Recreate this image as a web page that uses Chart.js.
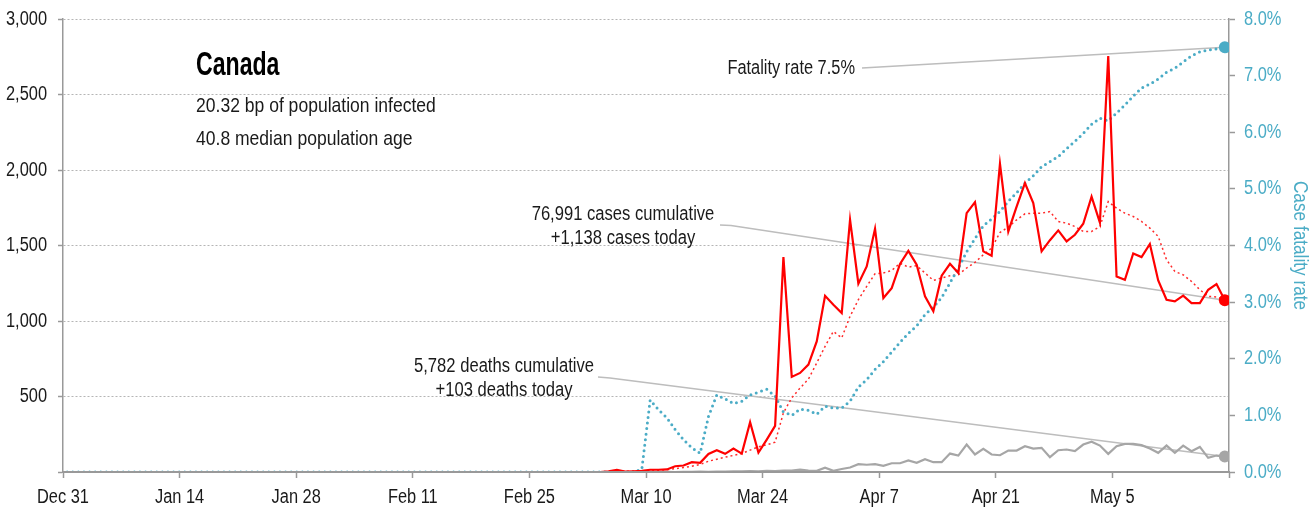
<!DOCTYPE html>
<html lang="en">
<head>
  <meta charset="UTF-8" />
  <title>Canada - cases, deaths and case fatality rate</title>
  <script src="https://cdn.jsdelivr.net/npm/chart.js"></script>
  <style>
    body {
      margin: 0;
      background: #fff;
    }
  </style>
</head>
<body>
  <canvas id="chart" width="1315" height="512"></canvas>

  <script>
    // no narrow font installed, so text is drawn with Liberation Sans squeezed horizontally
    const FONT = "'Liberation Sans', Arial, sans-serif";
    const SQUEEZE = 0.82;
    const BLUE = '#4bacc6';

    // x axis: one point per day, ticks every two weeks
    const xTickDays = [-0.5, 13.5, 27.5, 41.5, 55.5, 69.5, 83.5, 97.5, 111.5, 125.5, 139.5];
    const xTickLabels = ['Dec 31', 'Jan 14', 'Jan 28', 'Feb 11', 'Feb 25', 'Mar 10', 'Mar 24', 'Apr 7', 'Apr 21', 'May 5', ''];

    const country = 'Canada';
    const infectedBp = '20.32';
    const medianAge = '40.8';
    const totalCases = 76991;
    const totalDeaths = 5782;

    // new cases per day
    const casesDaily = [
      0, 0, 0, 0, 0, 0, 0, 0, 0, 0,
      0, 0, 0, 0, 0, 0, 0, 0, 0, 0,
      0, 0, 0, 0, 0, 0, 0, 0, 0, 0,
      0, 0, 0, 0, 0, 0, 0, 0, 0, 0,
      0, 0, 0, 0, 0, 0, 0, 0, 0, 0,
      0, 0, 0, 0, 0, 0, 0, 0, 0, 0,
      0, 0, 0, 0, 0,
      4, 14, 3, 5, 8, 15, 15, 17, 38, 43,
      65, 61, 120, 144, 120, 155, 122, 330, 129, 215,
      305, 1423, 630, 656, 711, 865, 1167, 1108, 1053, 1670,
      1247, 1361, 1611, 1152, 1218, 1378, 1464, 1373, 1163, 1064,
      1300, 1379, 1318, 1714, 1787, 1461, 1432, 2041, 1593, 1758,
      1913, 1781, 1461, 1535, 1600, 1527, 1571, 1644, 1824, 1652,
      2755, 1295, 1273, 1447, 1423, 1510, 1269, 1141, 1130, 1168,
      1119, 1119, 1207, 1245, 1138
    ];

    // 7 day average of new cases
    const casesAvg = [
      0, 0, 0, 0, 0, 0, 0, 0, 0, 0,
      0, 0, 0, 0, 0, 0, 0, 0, 0, 0,
      0, 0, 0, 0, 0, 0, 0, 0, 0, 0,
      0, 0, 0, 0, 0, 0, 0, 0, 0, 0,
      0, 0, 0, 0, 0, 0, 0, 0, 0, 0,
      0, 0, 0, 0, 0, 0, 0, 0, 0, 0,
      0, 0, 0, 0, 0,
      2, 4, 5, 6, 7, 9, 11, 15, 22, 30,
      38, 50, 71, 85, 98, 110, 122, 145, 167, 180,
      197, 392, 491, 556, 615, 722, 832, 931, 888, 1031,
      1141, 1229, 1313, 1318, 1335, 1382, 1357, 1366, 1318, 1269,
      1285, 1300, 1306, 1351, 1388, 1439, 1483, 1586, 1622, 1670,
      1710, 1714, 1714, 1725, 1659, 1648, 1626, 1593, 1593, 1626,
      1791, 1747, 1714, 1692, 1659, 1615, 1560, 1406, 1328, 1306,
      1262, 1207, 1163, 1159, 1141
    ];

    // new deaths per day
    const deathsDaily = [
      0, 0, 0, 0, 0, 0, 0, 0, 0, 0,
      0, 0, 0, 0, 0, 0, 0, 0, 0, 0,
      0, 0, 0, 0, 0, 0, 0, 0, 0, 0,
      0, 0, 0, 0, 0, 0, 0, 0, 0, 0,
      0, 0, 0, 0, 0, 0, 0, 0, 0, 0,
      0, 0, 0, 0, 0, 0, 0, 0, 0, 0,
      0, 0, 0, 0, 0, 0, 0, 0, 0,
      0, 1, 0, 1, 0, 1, 1, 2, 1, 3,
      3, 5, 4, 6, 5, 8, 6, 10, 9, 16,
      10, 8, 28, 8, 20, 30, 52, 48, 52, 41,
      58, 58, 77, 61, 85, 65, 65, 122, 109, 182,
      116, 153, 116, 111, 142, 142, 171, 155, 160, 98,
      144, 149, 138, 182, 200, 175, 120, 171, 186, 186,
      178, 155, 127, 175, 127, 175, 138, 166, 94, 109,
      103
    ];

    // case fatality rate, %
    const fatalityRate = [
      0, 0, 0, 0, 0, 0, 0, 0, 0, 0,
      0, 0, 0, 0, 0, 0, 0, 0, 0, 0,
      0, 0, 0, 0, 0, 0, 0, 0, 0, 0,
      0, 0, 0, 0, 0, 0, 0, 0, 0, 0,
      0, 0, 0, 0, 0, 0, 0, 0, 0, 0,
      0, 0, 0, 0, 0, 0, 0, 0, 0, 0,
      0, 0, 0, 0, 0, 0, 0, 0, 0,
      0.05, 1.27, 1.10, 0.96, 0.75, 0.57, 0.43, 0.33, 0.98, 1.36,
      1.29, 1.21, 1.25, 1.36, 1.41, 1.46, 1.34, 1.06, 1.00, 1.11,
      1.09, 1.02, 1.16, 1.13, 1.13, 1.25, 1.50, 1.63, 1.81, 1.95,
      2.12, 2.29, 2.45, 2.58, 2.78, 2.91, 3.08, 3.34, 3.60, 3.89,
      4.12, 4.35, 4.47, 4.60, 4.78, 4.93, 5.10, 5.23, 5.39, 5.48,
      5.57, 5.71, 5.84, 5.98, 6.14, 6.25, 6.20, 6.34, 6.48, 6.64,
      6.78, 6.85, 6.94, 7.06, 7.13, 7.24, 7.35, 7.42, 7.45, 7.47,
      7.50
    ];

    const fmt = (n) => n.toLocaleString('en-US');
    const toPoints = (arr) => arr.map((v, i) => ({ x: i, y: v }));
    const lastDot = (r) => (ctx) => ctx.dataIndex === ctx.dataset.data.length - 1 ? r : 0;

    function drawText(ctx, text, x, y, o) {
      ctx.save();
      ctx.translate(x, y);
      if (o.rotate) ctx.rotate(o.rotate);
      ctx.scale(o.sx || SQUEEZE, 1);
      ctx.font = (o.weight || 'normal') + ' ' + o.size + 'px ' + FONT;
      ctx.textAlign = o.align || 'left';
      ctx.textBaseline = o.baseline || 'alphabetic';
      ctx.fillStyle = o.color || '#1a1a1a';
      ctx.fillText(text, 0, 0);
      ctx.restore();
    }

    // leader lines, tick labels and text blocks
    const annotate = {
      id: 'annotate',
      beforeDatasetsDraw(chart) {
        const { ctx, scales } = chart;
        const last = casesDaily.length - 1;
        const xEnd = scales.x.getPixelForValue(last);
        const lead = (pts) => {
          ctx.beginPath();
          ctx.moveTo(pts[0][0], pts[0][1]);
          for (const p of pts.slice(1)) ctx.lineTo(p[0], p[1]);
          ctx.stroke();
        };
        ctx.save();
        ctx.strokeStyle = '#bdbdbd';
        ctx.lineWidth = 1.5;
        lead([[862, 68], [xEnd, scales.y2.getPixelForValue(fatalityRate[last])]]);
        lead([[720, 225], [731, 225.5], [xEnd, scales.y.getPixelForValue(casesDaily[last])]]);
        lead([[598, 377], [610, 378], [xEnd, scales.y.getPixelForValue(deathsDaily[last])]]);
        ctx.restore();
      },
      afterDraw(chart) {
        const { ctx, scales, chartArea } = chart;
        const last = casesDaily.length - 1;

        // axis labels
        scales.x.ticks.forEach((t, i) => {
          drawText(ctx, xTickLabels[i], scales.x.getPixelForValue(t.value), 497,
            { size: 20, align: 'center', baseline: 'middle' });
        });
        scales.y.ticks.forEach((t) => {
          if (t.value === 0) return;
          drawText(ctx, fmt(t.value), chartArea.left - 16, scales.y.getPixelForValue(t.value),
            { size: 20, align: 'right', baseline: 'middle' });
        });
        scales.y2.ticks.forEach((t) => {
          drawText(ctx, t.value.toFixed(1) + '%', chartArea.right + 15, scales.y2.getPixelForValue(t.value),
            { size: 20, align: 'left', baseline: 'middle', color: BLUE });
        });
        drawText(ctx, 'Case fatality rate', 1300, (chartArea.top + chartArea.bottom) / 2,
          { size: 21, align: 'center', baseline: 'middle', color: BLUE, rotate: Math.PI / 2 });

        // country block
        drawText(ctx, country, 196, 75, { size: 33, weight: 'bold', sx: 0.7, color: '#000' });
        drawText(ctx, infectedBp + ' bp of population infected', 196, 112, { size: 21, sx: 0.835 });
        drawText(ctx, medianAge + ' median population age', 196, 145, { size: 21, sx: 0.835 });

        // callouts
        drawText(ctx, 'Fatality rate ' + fatalityRate[last].toFixed(1) + '%', 855, 74,
          { size: 20, align: 'right', sx: 0.82 });
        drawText(ctx, fmt(totalCases) + ' cases cumulative', 623, 220, { size: 20, align: 'center', sx: 0.83 });
        drawText(ctx, '+' + fmt(casesDaily[last]) + ' cases today', 623, 244, { size: 20, align: 'center', sx: 0.83 });
        drawText(ctx, fmt(totalDeaths) + ' deaths cumulative', 504, 372, { size: 20, align: 'center', sx: 0.83 });
        drawText(ctx, '+' + fmt(deathsDaily[last]) + ' deaths today', 504, 396, { size: 20, align: 'center', sx: 0.83 });
      }
    };

    function renderChart() {
      const ctx = document.getElementById('chart').getContext('2d');
      new Chart(ctx, {
        type: 'line',
        data: {
          datasets: [
            {
              label: 'New cases',
              data: toPoints(casesDaily),
              yAxisID: 'y',
              borderColor: '#ff0000',
              borderWidth: 2.2,
              pointRadius: lastDot(6),
              pointBackgroundColor: '#ff0000',
              pointBorderWidth: 0
            },
            {
              label: 'Case fatality rate',
              data: toPoints(fatalityRate),
              yAxisID: 'y2',
              borderColor: BLUE,
              borderWidth: 3,
              borderDash: [0, 5.6],
              borderCapStyle: 'round',
              pointRadius: lastDot(6),
              pointBackgroundColor: BLUE,
              pointBorderWidth: 0
            },
            {
              label: 'New cases, 7 day average',
              data: toPoints(casesAvg),
              yAxisID: 'y',
              borderColor: '#ff2a2a',
              borderWidth: 1.5,
              borderDash: [2, 3],
              pointRadius: 0
            },
            {
              label: 'New deaths',
              data: toPoints(deathsDaily),
              yAxisID: 'y',
              borderColor: '#a6a6a6',
              borderWidth: 2.2,
              pointRadius: lastDot(6),
              pointBackgroundColor: '#a6a6a6',
              pointBorderWidth: 0
            }
          ]
        },
        options: {
          responsive: false,
          animation: false,
          layout: { padding: { top: 19 } },
          plugins: {
            legend: { display: false },
            tooltip: { enabled: false }
          },
          scales: {
            x: {
              type: 'linear',
              min: -0.5,
              max: 139.5,
              afterBuildTicks: (scale) => {
                scale.ticks = xTickDays.map(v => ({ value: v }));
              },
              afterFit: (scale) => { scale.height = 40; },
              ticks: { display: false },
              grid: {
                drawOnChartArea: false,
                tickLength: 6,
                tickColor: '#999',
                tickWidth: 1.5
              },
              border: { color: '#999', width: 2, z: 1 }
            },
            y: {
              position: 'left',
              min: 0,
              max: 3000,
              afterFit: (scale) => { scale.width = 63; },
              ticks: { stepSize: 500, display: false },
              grid: {
                color: (c) => c.tick && c.tick.value === 0 ? 'rgba(0,0,0,0)' : '#b5b5b5',
                lineWidth: 1,
                tickLength: 5,
                tickColor: '#999',
                tickWidth: 1.5
              },
              border: { color: '#999', width: 1.5, dash: [2, 2] }
            },
            y2: {
              position: 'right',
              min: 0,
              max: 8,
              afterFit: (scale) => { scale.width = 86; },
              ticks: { stepSize: 1, display: false },
              grid: {
                drawOnChartArea: false,
                tickLength: 6,
                tickColor: '#999',
                tickWidth: 1.5
              },
              border: { color: '#999', width: 1.5 }
            }
          }
        },
        plugins: [annotate]
      });
    }

    window.onload = renderChart;
  </script>
</body>
</html>
